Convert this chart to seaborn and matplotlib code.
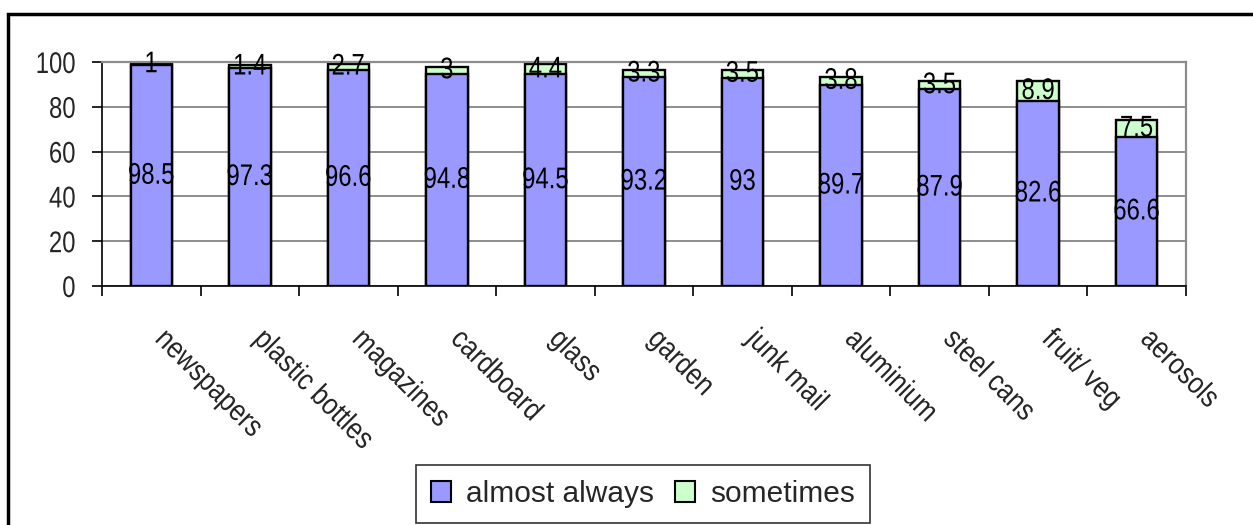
import matplotlib
matplotlib.use("Agg")
import matplotlib.pyplot as plt
import matplotlib.transforms as mtransforms
from matplotlib.patches import Patch, Rectangle
from matplotlib.patheffects import AbstractPathEffect
import seaborn as sns
import pandas as pd

categories = ["newspapers", "plastic bottles", "magazines", "cardboard", "glass",
              "garden", "junk mail", "aluminium", "steel cans", "fruit/ veg", "aerosols"]
almost_always = [98.5, 97.3, 96.6, 94.8, 94.5, 93.2, 93, 89.7, 87.9, 82.6, 66.6]
sometimes = [1, 1.4, 2.7, 3, 4.4, 3.3, 3.5, 3.8, 3.5, 8.9, 7.5]
series_names = ["almost always", "sometimes"]
y_ticks = [0, 20, 40, 60, 80, 100]

sns.set_style("white")
plt.rcParams["font.family"] = ["Liberation Sans", "DejaVu Sans"]

PURPLE = "#9999FF"
GREEN = "#CCFFCC"


class Narrow(AbstractPathEffect):
    """Draw text glyphs horizontally condensed (narrow face look)."""

    def __init__(self, sx=0.8, anchor="center"):
        super().__init__()
        self.sx = sx
        self.anchor = anchor

    def draw_path(self, renderer, gc, tpath, affine, rgbFace=None):
        ext = tpath.get_extents()
        if self.anchor == "left":
            cx = 0.0
        elif self.anchor == "right":
            cx = ext.x1
        else:
            cx = 0.5 * ext.x1
        pre = mtransforms.Affine2D().translate(-cx, 0).scale(self.sx, 1).translate(cx, 0)
        renderer.draw_path(gc, tpath, pre + affine, rgbFace)


df = pd.DataFrame({
    "category": categories,
    "almost": almost_always,
    "sometimes": sometimes,
})
df["total"] = df["almost"] + df["sometimes"]

fig = plt.figure(figsize=(12.53, 5.25), dpi=100)
ax = fig.add_axes([102 / 1253, 1 - 286 / 525, (1186 - 102) / 1253, (286 - 62) / 525])

# stacked bars: full height in green, lower segment in purple over it
sns.barplot(data=df, x="category", y="total", order=categories, color=GREEN,
            width=0.42, edgecolor="black", linewidth=1.7, saturation=1, ax=ax)
sns.barplot(data=df, x="category", y="almost", order=categories, color=PURPLE,
            width=0.42, edgecolor="black", linewidth=1.7, saturation=1, ax=ax)

fs = 21.5
for i, (a, s) in enumerate(zip(almost_always, sometimes)):
    ax.text(i, a / 2, f"{a:g}", ha="center", va="center", fontsize=fs, color="black",
            path_effects=[Narrow(0.8, "center")])
    ax.text(i, a + s / 2, f"{s:g}", ha="center", va="center", fontsize=fs, color="black",
            path_effects=[Narrow(0.8, "center")])

ax.set_xlim(-0.5, len(categories) - 0.5)
ax.set_ylim(0, 100)
ax.set_yticks(y_ticks)
ax.set_yticklabels([str(v) for v in y_ticks], fontsize=fs)
for lbl in ax.get_yticklabels():
    lbl.set_path_effects([Narrow(0.8, "right")])
ax.yaxis.grid(True, color="#7a7a7a", linewidth=1.2)
ax.set_axisbelow(True)
ax.set_xlabel("")
ax.set_ylabel("")

# ticks between categories on the x axis
ax.set_xticks([i - 0.5 for i in range(len(categories) + 1)])
ax.set_xticklabels([])
ax.tick_params(axis="x", direction="out", length=7, width=1.2, color="black", bottom=True)
ax.tick_params(axis="y", direction="out", length=7, width=1.2, color="black", left=True, pad=12)

for i, name in enumerate(categories):
    ax.annotate(name, xy=(i, 0), xycoords=("data", "axes fraction"),
                xytext=(6, -35), textcoords="offset points",
                rotation=-45, rotation_mode="anchor", ha="left", va="center",
                fontsize=fs, path_effects=[Narrow(0.86, "left")])

for side in ["left", "bottom"]:
    ax.spines[side].set_color("black")
    ax.spines[side].set_linewidth(1.2)
for side in ["top", "right"]:
    ax.spines[side].set_visible(True)
    ax.spines[side].set_color("#8c8c8c")
    ax.spines[side].set_linewidth(1.6)

handles = [Patch(facecolor=PURPLE, edgecolor="black", linewidth=1.5),
           Patch(facecolor=GREEN, edgecolor="black", linewidth=1.5)]
leg = fig.legend(handles, series_names, loc="center", bbox_to_anchor=(643 / 1253, 1 - 494 / 525),
                 ncol=2, fontsize=fs, frameon=True, fancybox=False, handlelength=0.67,
                 handleheight=0.67, handletextpad=0.5, columnspacing=0.7, borderpad=0.5)
leg.get_frame().set_edgecolor("black")
leg.get_frame().set_linewidth(1.2)

# outer chart frame
fig.patches.append(Rectangle((8 / 1253, -0.05), 1.1, 1 - 14 / 525 + 0.05,
                             transform=fig.transFigure, fill=False,
                             edgecolor="black", linewidth=2.5))

fig.savefig("out.png", dpi=100)
